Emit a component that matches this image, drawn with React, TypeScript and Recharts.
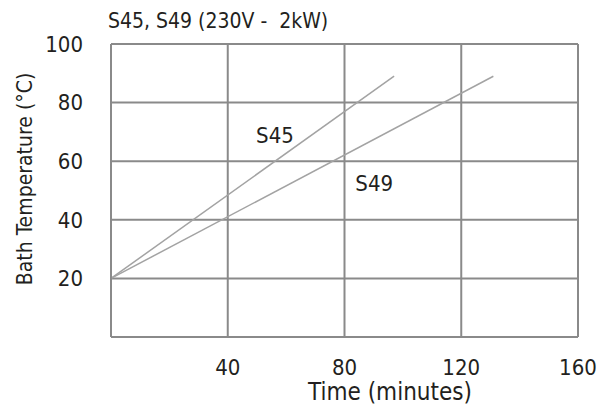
import React from "react";
import { LineChart, Line, XAxis, YAxis, CartesianGrid, ReferenceDot, Label } from "recharts";

const xTicks = [40, 80, 120, 160];
const yTicks = [20, 40, 60, 80, 100];

const s45 = [
  { t: 0, temp: 20 },
  { t: 97, temp: 89 },
];
const s49 = [
  { t: 0, temp: 20 },
  { t: 131, temp: 89 },
];

const font = "'DejaVu Sans Condensed', 'Liberation Sans Narrow', sans-serif";
const grid = "#8a8a8a";
const ink = "#231f20";

const App = () => {
  return (
    <div style={{ position: "absolute", left: 0, top: 0, width: 606, height: 410, background: "#fff", fontFamily: font }}>
      <div style={{ position: "absolute", left: 108, top: 9, fontSize: 21, color: ink, whiteSpace: "pre" }}>
        {"S45, S49 (230V -  2kW)"}
      </div>
      <LineChart width={606} height={410} margin={{ top: 44, right: 28, left: 0, bottom: 0 }}>
        <CartesianGrid stroke={grid} strokeWidth={2} horizontalValues={yTicks} verticalValues={xTicks} />
        <XAxis
          type="number"
          dataKey="t"
          domain={[0, 160]}
          ticks={xTicks}
          height={73}
          axisLine={{ stroke: grid, strokeWidth: 2 }}
          tickLine={false}
          tickMargin={16}
          tick={{ fill: ink, fontSize: 22, fontFamily: font }}
        >
          <Label
            content={() => (
              <text x={390} y={400} textAnchor="middle" fill={ink} fontSize={24} fontFamily={font}>
                Time (minutes)
              </text>
            )}
          />
        </XAxis>
        <YAxis
          type="number"
          domain={[0, 100]}
          ticks={yTicks}
          width={111}
          axisLine={{ stroke: grid, strokeWidth: 2 }}
          tickLine={false}
          tickMargin={22}
          tick={{ fill: ink, fontSize: 22, fontFamily: font }}
        >
          <Label
            content={() => (
              <text x={32} y={179} transform="rotate(-90, 32, 179)" textAnchor="middle" fill={ink} fontSize={21} fontFamily={font}>
                Bath Temperature (°C)
              </text>
            )}
          />
        </YAxis>
        <Line data={s45} dataKey="temp" type="linear" stroke="#a3a3a3" strokeWidth={1.5} dot={false} isAnimationActive={false} />
        <Line data={s49} dataKey="temp" type="linear" stroke="#a3a3a3" strokeWidth={1.5} dot={false} isAnimationActive={false} />
        <ReferenceDot x={48} y={69} r={0} stroke="none" label={{ value: "S45", position: "right", fill: ink, fontSize: 22, fontFamily: font }} />
        <ReferenceDot x={82} y={52.5} r={0} stroke="none" label={{ value: "S49", position: "right", fill: ink, fontSize: 22, fontFamily: font }} />
      </LineChart>
    </div>
  );
};

export default App;
